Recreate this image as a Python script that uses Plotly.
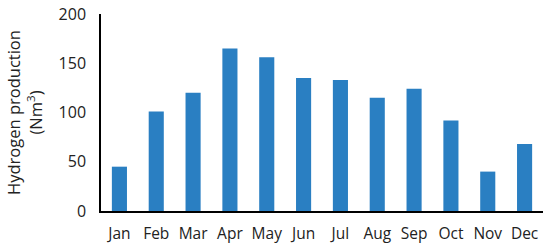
import plotly.graph_objects as go

months = ["Jan", "Feb", "Mar", "Apr", "May", "Jun", "Jul", "Aug", "Sep", "Oct", "Nov", "Dec"]
production = [45, 101, 120, 165, 156, 135, 133, 115, 124, 92, 40, 68]
y_ticks = [0, 50, 100, 150, 200]

fig = go.Figure(go.Bar(x=months, y=production, marker_color="#2A7FC2", marker_line_width=0))

fig.update_layout(
    width=550, height=251,
    margin=dict(l=101, r=7, t=14, b=38),
    paper_bgcolor="white", plot_bgcolor="white",
    bargap=0.59,
    font=dict(family="Open Sans", size=15, color="#222222"),
    showlegend=False,
)
fig.update_xaxes(
    showline=True, linecolor="black", linewidth=1.5,
    ticks="", showgrid=False, tickfont=dict(size=15.5), ticklabelstandoff=8,
)
fig.update_yaxes(
    range=[0, 200], tickvals=y_ticks, showline=True, linecolor="black", linewidth=1.5,
    ticks="", showgrid=False, zeroline=False, tickfont=dict(size=16), ticklabelstandoff=10,
    title=dict(text="Hydrogen production<br>(Nm<sup>3</sup>)", font=dict(size=16.5), standoff=12),
    automargin=False,
)
fig.write_html("out.html", config={"displayModeBar": False},
               post_script="document.body.style.margin='0';")
